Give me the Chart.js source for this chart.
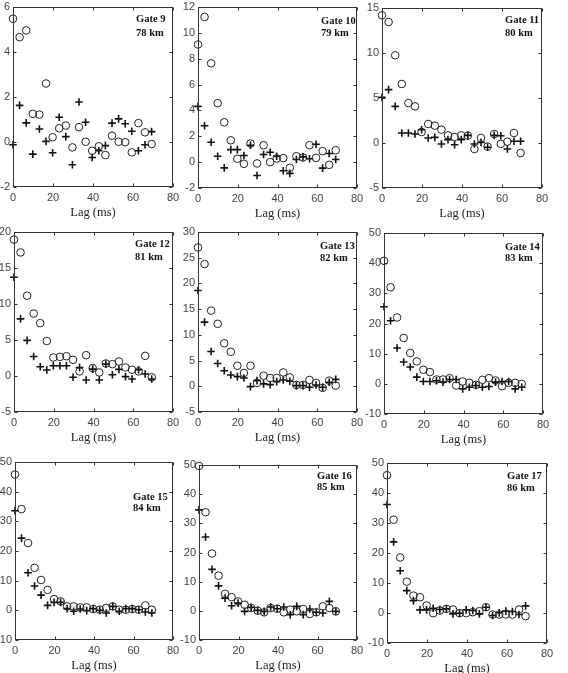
<!DOCTYPE html>
<html>
<head>
<meta charset="utf-8">
<script src="https://cdn.jsdelivr.net/npm/chart.js@4"></script>
<style>
  body { margin: 0; background: #fff; width: 568px; height: 673px; overflow: hidden; position: relative; }
  canvas { position: absolute; }
</style>
</head>
<body>
<script>
// lag axis (ms), shared by every gate
const lags = [0, 3.3, 6.6, 9.9, 13.2, 16.5, 19.8, 23.1, 26.4, 29.7, 33.0, 36.3, 39.6, 42.9, 46.2, 49.5, 52.8, 56.1, 59.4, 62.7, 66.0, 69.3];
const xTicks = [0, 20, 40, 60, 80];

const gateNames = ["Gate 9", "Gate 10", "Gate 11", "Gate 12", "Gate 13", "Gate 14", "Gate 15", "Gate 16", "Gate 17"];
const gateRanges = ["78 km", "79 km", "80 km", "81 km", "82 km", "83 km", "84 km", "85 km", "86 km"];

// circles (o) and crosses (+) for each gate
const circ9 = [5.48, 4.66, 4.96, 1.25, 1.22, 2.60, 0.21, 0.61, 0.73, -0.24, 0.66, 0.01, -0.39, -0.19, -0.58, 0.28, 0.01, -0.01, -0.46, 0.84, 0.43, -0.09];
const plus9 = [-0.12, 1.63, 0.85, -0.54, 0.58, 0.03, -0.48, 1.10, 0.24, -1.01, 1.78, 0.88, -0.69, -0.39, -0.16, 0.84, 1.03, 0.81, 0.48, -0.39, -0.12, 0.46];
const circ10 = [9.10, 11.23, 7.64, 4.56, 3.08, 1.69, 0.26, -0.13, 1.44, -0.10, 1.31, 0.0, 0.28, 0.31, -0.44, 0.46, 0.36, 1.31, 0.33, 0.85, -0.21, 0.92];
const plus10 = [4.31, 2.82, 1.54, 0.46, -0.44, 0.97, 0.97, 0.51, 1.31, -1.03, 0.59, 0.77, 0.46, -0.67, -0.87, 0.21, 0.41, 0.26, 1.38, -0.46, 0.67, 0.21];
const circ11 = [14.19, 13.44, 9.74, 6.56, 4.44, 4.07, 1.22, 2.11, 1.93, 1.48, 0.85, 0.67, 0.85, 0.81, -0.67, 0.56, -0.4, 1.0, -0.1, 0.15, 1.11, -1.11];
const plus11 = [5.07, 5.93, 4.07, 1.11, 1.11, 1.0, 1.48, 0.56, 0.63, -0.11, 0.37, -0.19, 0.37, 0.85, -0.11, 0.07, -0.48, 0.85, 0.81, -0.67, 0.19, 0.19];
const circ12 = [18.94, 17.16, 11.15, 8.67, 7.34, 4.86, 2.57, 2.66, 2.75, 2.25, 0.64, 2.89, 1.1, 0.5, 1.74, 1.65, 2.02, 1.19, 0.87, 0.64, 2.8, -0.18];
const plus12 = [13.72, 7.94, 4.95, 2.71, 1.28, 0.83, 1.42, 1.42, 1.42, -0.18, 1.19, -0.55, 0.96, -0.55, 1.65, 0.18, 0.92, -0.09, -0.41, 0.87, 0.28, -0.41];
const circ13 = [26.98, 23.77, 14.71, 12.15, 8.36, 6.69, 3.99, 2.58, 3.99, 0.65, 2.06, 1.61, 1.61, 2.7, 1.74, 0.26, 0.26, 1.23, 0.65, -0.31, 1.1, 0.13];
const plus13 = [18.63, 12.47, 6.75, 4.44, 3.03, 2.19, 1.87, 1.61, -0.06, 1.1, 0.46, 0.33, 0.91, 1.23, 0.97, 0.13, 0.13, -0.19, 0.26, -0.19, 0.78, 1.35];
const circ14 = [40.78, 32.0, 22.0, 15.22, 10.22, 7.44, 4.67, 3.89, 1.44, 1.44, 1.89, -0.56, 0.78, 0.33, -0.33, 1.33, 1.89, 1.11, -0.78, 0.33, 0.33, 0.0];
const plus14 = [25.56, 20.89, 11.89, 7.22, 5.56, 2.22, 0.78, 0.78, 1.0, 0.56, 1.44, 1.44, -1.67, -1.11, -0.56, -1.11, -0.89, 0.56, 0.78, 0.78, -1.67, -1.11];
const circ15 = [45.78, 34.11, 22.67, 14.33, 10.22, 6.89, 3.78, 3.0, 1.33, 1.33, 1.0, 1.0, 0.44, 0.22, 0.78, 1.33, 0.22, 0.22, 0.44, 0.22, 1.67, 0.22];
const plus15 = [33.56, 24.33, 12.67, 8.22, 5.11, 1.67, 2.67, 2.67, 0.56, -0.33, 0.44, -0.11, 0.56, 0.0, -0.89, 1.33, -0.33, 0.56, 0.56, 0.22, -0.56, -0.89];
const circ16 = [49.66, 33.81, 19.65, 12.06, 5.83, 4.7, 3.23, 2.1, 0.96, 0.06, -0.51, 0.96, 0.74, -0.51, 0.4, -0.17, 0.63, -1.07, -0.51, 1.53, 0.96, -0.17];
const plus16 = [34.6, 25.31, 14.21, 8.55, 4.36, 1.76, 2.66, -0.17, 1.19, 0.17, -0.17, 1.3, 0.74, 1.3, -1.3, 1.53, -1.3, 0.63, -0.51, -0.74, 3.23, -0.17];
const circ17 = [45.91, 31.1, 18.51, 10.44, 5.8, 5.25, 2.49, -0.06, 0.83, 1.38, 1.16, -0.06, -0.06, 0.28, 0.61, 1.93, -0.5, -0.5, -0.5, -0.5, 1.16, -1.05];
const plus17 = [36.19, 23.7, 14.09, 7.46, 4.14, 1.05, 1.05, 1.6, 1.16, 1.38, -0.28, -0.06, 1.05, 0.83, -0.28, 1.93, -0.83, 0.06, 0.61, 0.5, -0.5, 2.38];

// y tick labels per gate
const yTicks9 = [-2, 0, 2, 4, 6];
const yTicks10 = [-2, 0, 2, 4, 6, 8, 10, 12];
const yTicks11 = [-5, 0, 5, 10, 15];
const yTicks12 = [-5, 0, 5, 10, 15, 20];
const yTicks13 = [-5, 0, 5, 10, 15, 20, 25, 30];
const yTicksBig = [-10, 0, 10, 20, 30, 40, 50];

const circles = [circ9, circ10, circ11, circ12, circ13, circ14, circ15, circ16, circ17];
const crosses = [plus9, plus10, plus11, plus12, plus13, plus14, plus15, plus16, plus17];
const yTickSets = [yTicks9, yTicks10, yTicks11, yTicks12, yTicks13, yTicksBig, yTicksBig, yTicksBig, yTicksBig];

// plot boxes on the page (left, top, right, bottom) and label offsets
const boxes = [
  { l: 13, t: 7, r: 173, b: 187, dx: -37, y1: 12, y2: 26 },
  { l: 198, t: 7, r: 357, b: 188, dx: -36, y1: 14, y2: 26 },
  { l: 382, t: 8, r: 542, b: 188, dx: -37, y1: 12, y2: 25 },
  { l: 14, t: 232, r: 173, b: 412, dx: -38, y1: 12, y2: 25 },
  { l: 198, t: 232, r: 357, b: 412, dx: -37, y1: 14, y2: 26 },
  { l: 384, t: 233, r: 543, b: 414, dx: -38, y1: 14, y2: 25 },
  { l: 15, t: 462, r: 173, b: 640, dx: -40, y1: 35, y2: 46 },
  { l: 199, t: 465, r: 357, b: 640, dx: -40, y1: 11, y2: 22 },
  { l: 387, t: 463, r: 547, b: 643, dx: -40, y1: 13, y2: 25 }
];

const AXW = 40, AXH = 33, PADT = 10, PADR = 12;

// matlab style box with inward ticks + gate label
const boxPlugin = {
  id: "boxPlugin",
  afterDraw(chart, args, opts) {
    const { ctx, chartArea: a, scales: { x, y } } = chart;
    const L = Math.round(a.left) + 0.5, R = Math.round(a.right) - 0.5;
    const T = Math.round(a.top) + 0.5, B = Math.round(a.bottom) - 0.5;
    ctx.save();
    ctx.strokeStyle = "#333";
    ctx.lineWidth = 1;
    ctx.strokeRect(L, T, R - L, B - T);
    ctx.beginPath();
    x.ticks.forEach(tk => {
      const px = Math.round(x.getPixelForValue(tk.value)) + 0.5;
      ctx.moveTo(px, B); ctx.lineTo(px, B - 3);
      ctx.moveTo(px, T); ctx.lineTo(px, T + 3);
    });
    y.ticks.forEach(tk => {
      const py = Math.round(y.getPixelForValue(tk.value)) + 0.5;
      ctx.moveTo(L, py); ctx.lineTo(L + 3, py);
      ctx.moveTo(R, py); ctx.lineTo(R - 3, py);
    });
    ctx.stroke();
    ctx.fillStyle = "#111";
    ctx.font = "bold 10.5px 'Liberation Serif'";
    ctx.textAlign = "left";
    ctx.textBaseline = "middle";
    ctx.fillText(opts.name, a.right + opts.dx, a.top + opts.y1);
    ctx.fillText(opts.range, a.right + opts.dx, a.top + opts.y2);
    ctx.restore();
  }
};

boxes.forEach((bx, i) => {
  const cv = document.createElement("canvas");
  const w = (bx.r - bx.l) + AXW + PADR;
  const h = (bx.b - bx.t) + PADT + AXH;
  cv.width = w; cv.height = h;
  cv.style.left = (bx.l - AXW) + "px";
  cv.style.top = (bx.t - PADT) + "px";
  document.body.appendChild(cv);

  const yt = yTickSets[i];
  const tickFont = { family: "'Liberation Sans'", size: 11 };

  new Chart(cv, {
    type: "scatter",
    data: {
      datasets: [
        {
          data: lags.map((v, k) => ({ x: v, y: circles[i][k] })),
          pointStyle: "circle",
          pointRadius: 3.8,
          borderColor: "#222",
          backgroundColor: "rgba(0,0,0,0)",
          borderWidth: 1,
          clip: false
        },
        {
          data: lags.map((v, k) => ({ x: v, y: crosses[i][k] })),
          pointStyle: "cross",
          pointRadius: 3.8,
          borderColor: "#111",
          borderWidth: 1.6,
          clip: false
        }
      ]
    },
    options: {
      responsive: false,
      animation: false,
      layout: { padding: { left: 0, top: PADT, right: PADR, bottom: 0 } },
      plugins: {
        legend: { display: false },
        tooltip: { enabled: false },
        boxPlugin: { name: gateNames[i], range: gateRanges[i], dx: bx.dx, y1: bx.y1, y2: bx.y2 }
      },
      scales: {
        x: {
          type: "linear",
          min: xTicks[0],
          max: xTicks[xTicks.length - 1],
          afterBuildTicks: s => { s.ticks = xTicks.map(v => ({ value: v })); },
          afterFit: s => { s.height = AXH; },
          grid: { display: false, drawTicks: false },
          border: { display: false },
          ticks: { color: "#444", font: tickFont, padding: 4, autoSkip: false, maxRotation: 0 },
          title: {
            display: true,
            text: "Lag (ms)",
            color: "#222",
            font: { family: "'Liberation Serif'", size: 12.5 },
            padding: { top: 0, bottom: 0 }
          }
        },
        y: {
          type: "linear",
          min: yt[0],
          max: yt[yt.length - 1],
          afterBuildTicks: s => { s.ticks = yt.map(v => ({ value: v })); },
          afterFit: s => { s.width = AXW; },
          grid: { display: false, drawTicks: false },
          border: { display: false },
          ticks: { color: "#444", font: tickFont, padding: 3, autoSkip: false }
        }
      }
    },
    plugins: [boxPlugin]
  });
});
</script>
</body>
</html>
